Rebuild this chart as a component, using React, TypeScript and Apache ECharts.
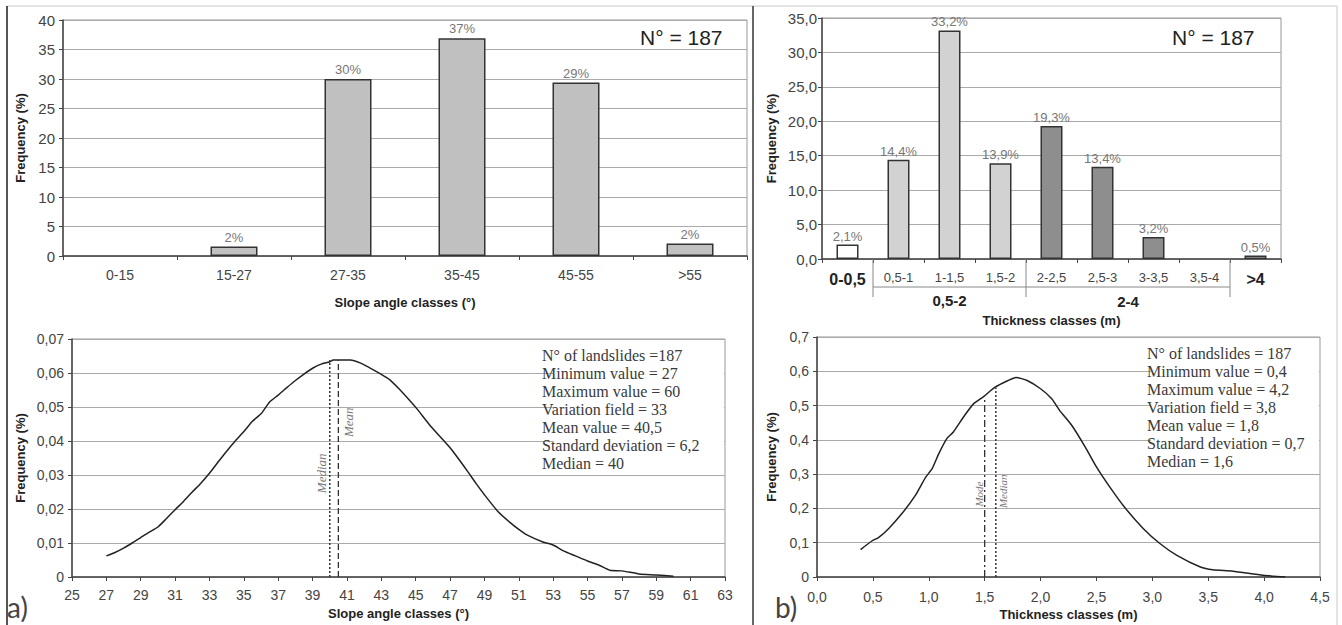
import React, { useEffect, useRef } from 'react';
import * as echarts from 'echarts';

// ---------- data ----------
const slopeClasses = ['0-15', '15-27', '27-35', '35-45', '45-55', '>55'];
const slopeFreq = [0, 1.6, 30.0, 36.9, 29.4, 2.1];
const slopeBarLabels = ['', '2%', '30%', '37%', '29%', '2%'];

const thickClasses = ['0-0,5', '0,5-1', '1-1,5', '1,5-2', '2-2,5', '2,5-3', '3-3,5', '3,5-4', '>4'];
const thickFreq = [2.1, 14.4, 33.2, 13.9, 19.3, 13.4, 3.2, 0, 0.5];
const thickBarLabels = ['2,1%', '14,4%', '33,2%', '13,9%', '19,3%', '13,4%', '3,2%', '', '0,5%'];
const thickGroups = ['0-0,5', '0,5-2', '0,5-2', '0,5-2', '2-4', '2-4', '2-4', '2-4', '>4'];
const thickGroupLabels = ['0,5-2', '2-4'];

const slopeCurveX = [27, 27.5, 28, 28.5, 29, 29.5, 30, 30.5, 31, 31.5, 32, 32.5, 33, 33.5, 34, 34.5, 35, 35.5, 36, 36.5, 37, 37.5, 38, 38.5, 39, 39.5, 40, 40.2, 41.2, 41.8, 42.3, 43, 43.5, 44, 44.6, 45.1, 45.8, 46.4, 47, 47.5, 48, 48.5, 49, 49.8, 50.5, 51, 51.5, 52.4, 53, 53.6, 54.3, 55, 55.7, 56.3, 57, 58, 59, 60];
const slopeCurveY = [0.0062, 0.0072, 0.0085, 0.0100, 0.0116, 0.0132, 0.0147, 0.0172, 0.0198, 0.0223, 0.0250, 0.0276, 0.0305, 0.0338, 0.0370, 0.0400, 0.0428, 0.0458, 0.0480, 0.0515, 0.0535, 0.0557, 0.0578, 0.0597, 0.0614, 0.0626, 0.0633, 0.0638, 0.0638, 0.0629, 0.0616, 0.0596, 0.0580, 0.0555, 0.0522, 0.0493, 0.0448, 0.0414, 0.0380, 0.0347, 0.0312, 0.0276, 0.0242, 0.0192, 0.0160, 0.0140, 0.0123, 0.0103, 0.0094, 0.0077, 0.0062, 0.0047, 0.0034, 0.0020, 0.0018, 0.0009, 0.0006, 0.0002];
const slopeMedian = 40;
const slopeMean = 40.5;
const slopeMarkTop = 0.0638;

const thickCurveX = [0.39, 0.49, 0.55, 0.64, 0.76, 0.88, 0.97, 1.03, 1.09, 1.16, 1.22, 1.32, 1.40, 1.49, 1.59, 1.71, 1.78, 1.88, 2.00, 2.10, 2.17, 2.28, 2.40, 2.50, 2.62, 2.75, 2.92, 3.07, 3.22, 3.43, 3.54, 3.72, 3.99, 4.19];
const thickCurveY = [0.080, 0.105, 0.115, 0.141, 0.185, 0.238, 0.290, 0.316, 0.360, 0.403, 0.423, 0.471, 0.505, 0.526, 0.553, 0.573, 0.582, 0.573, 0.549, 0.520, 0.486, 0.442, 0.379, 0.321, 0.262, 0.204, 0.141, 0.097, 0.063, 0.029, 0.021, 0.017, 0.005, 0.000];
const thickMode = 1.5;
const thickModeTop = 0.526;
const thickMedian = 1.6;
const thickMedianTop = 0.553;

const slopeStats = [
  'N° of landslides =187',
  'Minimum value = 27',
  'Maximum value = 60',
  'Variation field = 33',
  'Mean value = 40,5',
  'Standard deviation = 6,2',
  'Median = 40',
];
const thickStats = [
  'N° of landslides = 187',
  'Minimum value = 0,4',
  'Maximum value = 4,2',
  'Variation field = 3,8',
  'Mean value = 1,8',
  'Standard deviation = 0,7',
  'Median = 1,6',
];
const sampleSize = 'N° = 187';

// ---------- styling ----------
const SANS = '"Liberation Sans", Arial, sans-serif';
const SERIF = '"Liberation Serif", "Times New Roman", serif';
const AXIS = '#444';
const GRIDC = '#aaa';
const groupColors: Record<string, string> = { '0-0,5': '#ffffff', '0,5-2': '#d2d2d2', '2-4': '#8e8e8e', '>4': '#d2d2d2' };

const G = [
  { left: 63, top: 20, width: 684, height: 236 },
  { left: 822, top: 18, width: 459, height: 241 },
  { left: 72, top: 339, width: 653, height: 238 },
  { left: 817, top: 337, width: 503, height: 240 },
];

const comma = (v: number, d: number) => (v === 0 ? '0' : v.toFixed(d).replace('.', ','));

function valueY(gridIndex: number, min: number, max: number, interval: number, fmt: (v: number) => string, margin: number, nameGap: number, fontSize: number) {
  return {
    type: 'value', gridIndex, min, max, interval,
    name: 'Frequency (%)', nameLocation: 'middle', nameGap,
    nameTextStyle: { fontFamily: SANS, fontWeight: 'bold', fontSize: 13, color: '#222' },
    axisLine: { show: true, lineStyle: { color: AXIS, width: 1.5 } },
    axisTick: { show: true, length: 4, lineStyle: { color: AXIS } },
    axisLabel: { formatter: fmt, color: AXIS, fontFamily: SANS, fontSize, margin },
    splitLine: { show: true, lineStyle: { color: GRIDC, width: 1 } },
  };
}

export default function App() {
  const ref = useRef<HTMLDivElement>(null);
  useEffect(() => {
    document.body.style.margin = '0';
    const chart = echarts.init(ref.current!, null, { renderer: 'svg' });

    const option: any = {
      animation: false,
      backgroundColor: '#fff',
      grid: G.map((g) => ({ ...g, show: true, borderColor: '#999', borderWidth: 1, backgroundColor: 'transparent' })),
      xAxis: [
        {
          type: 'category', gridIndex: 0, data: slopeClasses,
          name: 'Slope angle classes (°)', nameLocation: 'middle', nameGap: 40,
          nameTextStyle: { fontFamily: SANS, fontWeight: 'bold', fontSize: 13, color: '#222' },
          axisLine: { lineStyle: { color: AXIS, width: 1.5 } },
          axisTick: { show: true, length: 4, lineStyle: { color: AXIS } },
          axisLabel: { color: AXIS, fontFamily: SANS, fontSize: 14, margin: 12, interval: 0 },
        },
        {
          type: 'category', gridIndex: 1, data: thickClasses,
          name: 'Thickness classes (m)', nameLocation: 'middle', nameGap: 55,
          nameTextStyle: { fontFamily: SANS, fontWeight: 'bold', fontSize: 13, color: '#222' },
          axisLine: { lineStyle: { color: AXIS, width: 1.5 } },
          axisTick: { show: true, length: 4, lineStyle: { color: AXIS } },
          axisLabel: {
            color: AXIS, fontFamily: SANS, fontSize: 13, margin: 12, interval: 0,
            formatter: (v: string, i: number) => (thickGroups[i] === v ? `{b|${v}}` : v),
            rich: { b: { fontFamily: SANS, fontSize: 16, fontWeight: 'bold', color: '#222' } },
          },
        },
        {
          type: 'value', gridIndex: 2, min: 25, max: 63, interval: 2,
          name: 'Slope angle classes (°)', nameLocation: 'middle', nameGap: 30,
          nameTextStyle: { fontFamily: SANS, fontWeight: 'bold', fontSize: 13, color: '#222' },
          axisLine: { lineStyle: { color: AXIS, width: 1.5 } },
          axisTick: { show: true, length: 4, lineStyle: { color: AXIS } },
          axisLabel: { color: AXIS, fontFamily: SANS, fontSize: 14, margin: 11 },
          splitLine: { show: false },
        },
        {
          type: 'value', gridIndex: 3, min: 0, max: 4.5, interval: 0.5,
          name: 'Thickness classes (m)', nameLocation: 'middle', nameGap: 31,
          nameTextStyle: { fontFamily: SANS, fontWeight: 'bold', fontSize: 13, color: '#222' },
          axisLine: { lineStyle: { color: AXIS, width: 1.5 } },
          axisTick: { show: true, length: 4, lineStyle: { color: AXIS } },
          axisLabel: { color: AXIS, fontFamily: SANS, fontSize: 14, margin: 13, formatter: (v: number) => v.toFixed(1).replace('.', ',') },
          splitLine: { show: false },
        },
      ],
      yAxis: [
        valueY(0, 0, 40, 5, (v) => String(v), 8, 36, 15),
        valueY(1, 0, 35, 5, (v) => v.toFixed(1).replace('.', ','), 5, 44, 15),
        valueY(2, 0, 0.07, 0.01, (v) => comma(v, 2), 8, 45, 14),
        valueY(3, 0, 0.7, 0.1, (v) => comma(v, 1), 8, 39, 14),
      ],
      series: [
        {
          type: 'bar', xAxisIndex: 0, yAxisIndex: 0, barWidth: 47,
          data: slopeFreq.map((v, i) => ({
            value: v,
            itemStyle: v === 0 ? { borderWidth: 0, opacity: 0 } : undefined,
            label: { formatter: slopeBarLabels[i] },
          })),
          itemStyle: { color: '#c0c0c0', borderColor: '#333', borderWidth: 1.5 },
          label: { show: true, position: 'top', distance: 3, color: '#777', fontFamily: SANS, fontSize: 13 },
        },
        {
          type: 'bar', xAxisIndex: 1, yAxisIndex: 1, barWidth: 22,
          data: thickFreq.map((v, i) => ({
            value: v,
            itemStyle: v === 0 ? { color: groupColors[thickGroups[i]], borderWidth: 0, opacity: 0 } : { color: groupColors[thickGroups[i]] },
            label: { formatter: thickBarLabels[i] },
          })),
          itemStyle: { borderColor: '#333', borderWidth: 1.5 },
          label: { show: true, position: 'top', distance: 2, color: '#777', fontFamily: SANS, fontSize: 13 },
        },
        {
          type: 'line', xAxisIndex: 2, yAxisIndex: 2, showSymbol: false, symbol: 'none', smooth: 0.2,
          data: slopeCurveX.map((x, i) => [x, slopeCurveY[i]]),
          lineStyle: { color: '#222', width: 1.5 },
        },
        {
          type: 'line', xAxisIndex: 2, yAxisIndex: 2, symbol: 'none',
          data: [[slopeMedian, 0], [slopeMedian, slopeMarkTop]],
          lineStyle: { color: '#333', width: 1.5, type: [2, 2] },
        },
        {
          type: 'line', xAxisIndex: 2, yAxisIndex: 2, symbol: 'none',
          data: [[slopeMean, 0], [slopeMean, slopeMarkTop]],
          lineStyle: { color: '#333', width: 1.3, type: [6, 3] },
        },
        {
          type: 'line', xAxisIndex: 3, yAxisIndex: 3, showSymbol: false, symbol: 'none', smooth: 0.2,
          data: thickCurveX.map((x, i) => [x, thickCurveY[i]]),
          lineStyle: { color: '#222', width: 1.5 },
        },
        {
          type: 'line', xAxisIndex: 3, yAxisIndex: 3, symbol: 'none',
          data: [[thickMode, 0], [thickMode, thickModeTop]],
          lineStyle: { color: '#333', width: 1.3, type: [7, 3, 2, 3] },
        },
        {
          type: 'line', xAxisIndex: 3, yAxisIndex: 3, symbol: 'none',
          data: [[thickMedian, 0], [thickMedian, thickMedianTop]],
          lineStyle: { color: '#333', width: 1.5, type: [2, 2] },
        },
      ],
    };
    chart.setOption(option);

    const px = (gi: number, pt: [number, number]) => chart.convertToPixel({ xAxisIndex: gi, yAxisIndex: gi }, pt) as number[];

    const g1 = G[1];
    const cw = g1.width / thickClasses.length;
    const axisY = g1.top + g1.height;
    const b1 = g1.left + cw * 1;
    const b4 = g1.left + cw * 4;
    const b8 = g1.left + cw * 8;

    const lineEl = (x1: number, y1: number, x2: number, y2: number, stroke: string, lw: number) => ({
      type: 'line', shape: { x1, y1, x2, y2 }, style: { stroke, lineWidth: lw }, z: 5,
    });
    const textEl = (text: string, x: number, y: number, st: any, extra: any = {}) => ({
      type: 'text', x, y, z: 6,
      style: { text, textAlign: st.align || 'left', align: st.align || 'left', textVerticalAlign: 'middle', verticalAlign: 'middle', ...st },
      ...extra,
    });

    const statsBlock = (lines: string[], x: number, y0: number) =>
      lines.map((t, i) => textEl(t, x, y0 + i * 18.1, { fill: '#3a3a3a', fontFamily: SERIF, fontSize: 16 }));

    const sMed = px(2, [slopeMedian, 0.0305]);
    const sMean = px(2, [slopeMean, 0.0455]);
    const tMode = px(3, [thickMode, 0.242]);
    const tMed = px(3, [thickMedian, 0.25]);
    const rotLabel = (t: string, p: number[], dx: number, size: number) =>
      textEl(t, p[0] + dx, p[1], { fill: '#777', fontFamily: SERIF, fontStyle: 'italic', fontSize: size, align: 'center' }, { rotation: Math.PI / 2 });

    const graphics: any[] = [
      // page frame
      lineEl(7, 6, 1337, 6, '#c8c8c8', 1),
      lineEl(7, 6, 7, 625, '#555', 2),
      lineEl(753, 6, 753, 625, '#666', 2),
      lineEl(1337, 6, 1337, 625, '#c8c8c8', 1),
      // group brackets under thickness bars
      lineEl(b1, axisY, b1, axisY + 38, '#888', 1),
      lineEl(b4, axisY, b4, axisY + 38, '#888', 1),
      lineEl(b8, axisY, b8, axisY + 38, '#888', 1),
      lineEl(b1, axisY + 28, b8, axisY + 28, '#888', 1),
      textEl(thickGroupLabels[0], (b1 + b4) / 2, axisY + 41, { fill: '#222', fontFamily: SANS, fontSize: 15, fontWeight: 'bold', align: 'center' }),
      textEl(thickGroupLabels[1], (b4 + b8) / 2, axisY + 42, { fill: '#222', fontFamily: SANS, fontSize: 15, fontWeight: 'bold', align: 'center' }),
      // N° = 187
      textEl(sampleSize, 640, 37, { fill: '#222', fontFamily: SANS, fontSize: 21 }),
      textEl(sampleSize, 1172, 37, { fill: '#222', fontFamily: SANS, fontSize: 21 }),
      // stats boxes
      { type: 'rect', shape: { x: 553, y: 340, width: 171, height: 131 }, style: { fill: '#fff' }, z: 4 },
      { type: 'rect', shape: { x: 1151, y: 338, width: 168, height: 131 }, style: { fill: '#fff' }, z: 4 },
      ...statsBlock(slopeStats, 542, 355),
      ...statsBlock(thickStats, 1147, 353),
      // rotated annotation labels
      rotLabel('Median', sMed, -8, 13),
      rotLabel('Mean', sMean, 10, 13),
      rotLabel('Mode', tMode, -6, 11),
      rotLabel('Median', tMed, 7, 11),
      // panel letters
      textEl('a)', 7, 607, { fill: '#444', fontFamily: 'Lato, "Liberation Sans", sans-serif', fontSize: 28 }),
      textEl('b)', 775, 607, { fill: '#444', fontFamily: 'Lato, "Liberation Sans", sans-serif', fontSize: 28 }),
    ];
    chart.setOption({ graphic: { elements: graphics } });

    return () => chart.dispose();
  }, []);
  return <div ref={ref} style={{ width: 1342, height: 625 }} />;
}
